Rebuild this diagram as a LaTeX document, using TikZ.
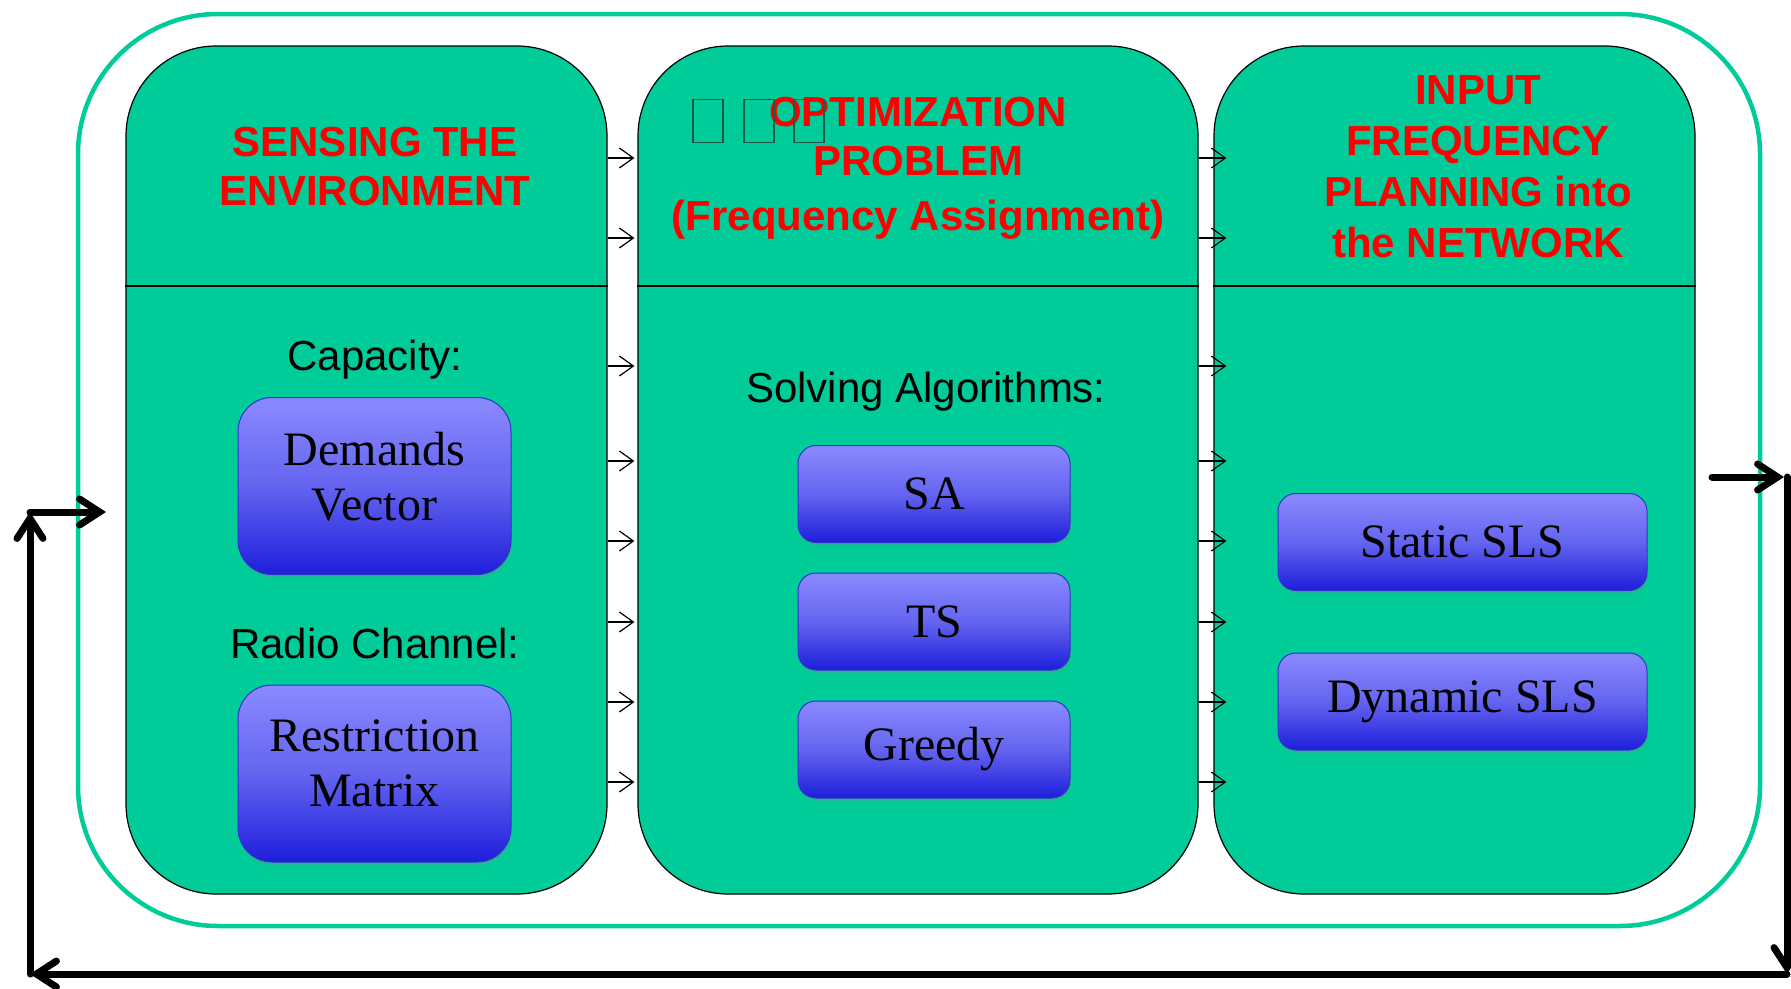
\documentclass[tikz,border=0pt]{standalone}
\usepackage{fontspec}
\setmainfont{Liberation Serif}
\newfontfamily\arial{Liberation Sans}
\usetikzlibrary{arrows.meta,shadows}
\definecolor{tealA}{RGB}{0,204,153}
\definecolor{boxTop}{RGB}{138,138,255}
\definecolor{boxMid}{RGB}{100,100,240}
\definecolor{boxBot}{RGB}{30,30,220}
\definecolor{boxLine}{RGB}{50,50,200}
\definecolor{tofu}{RGB}{30,90,70}
\begin{document}
\begin{tikzpicture}[x=1pt,y=-1pt,
  outer/.style={draw=tealA,line width=4.5pt,fill=white,rounded corners=140pt,inner sep=0pt},
  panel/.style={draw=black,line width=1.2pt,fill=tealA,rounded corners=90pt,inner sep=0pt,minimum height=848pt},
  title/.style={text=red,font=\arial\bfseries\fontsize{42}{49}\selectfont,align=center,inner sep=0pt},
  label/.style={text=black,font=\arial\fontsize{42}{49}\selectfont,inner sep=0pt},
  bluebox/.style={draw=boxLine,line width=1pt,top color=boxTop,bottom color=boxBot,middle color=boxMid,
     font=\fontsize{48}{55}\selectfont,align=center,inner sep=0pt,
     drop shadow={opacity=0.25,shadow xshift=1pt,shadow yshift=-3pt}},
  bigbox/.style={bluebox,rounded corners=34pt,minimum width=273pt,minimum height=177pt,text depth=20pt},
  algbox/.style={bluebox,rounded corners=18pt,minimum width=272pt,minimum height=97pt},
  slsbox/.style={bluebox,rounded corners=18pt,minimum width=369pt,minimum height=97pt},
  smallarr/.style={draw=black,line width=1.2pt,-{Straight Barb[length=14pt,width=20pt]}},
  bigarr/.style={draw=black,line width=7pt,line cap=round,-{Straight Barb[length=20pt,width=26pt,line cap=round]}},
  divider/.style={draw=black,line width=1.2pt},
  tofubox/.style={draw=tofu,line width=1.2pt,minimum width=30pt,minimum height=43pt,inner sep=0pt}
]
\useasboundingbox (0,0) rectangle (1791,988);

\node[outer,minimum width=1682pt,minimum height=912pt] (O) at (919,470) {};

\node[panel,minimum width=481pt] (P1) at (366.5,470) {};
\node[panel,minimum width=560pt] (P2) at (918,470) {};
\node[panel,minimum width=481pt] (P3) at (1454.5,470) {};

\coordinate (dv) at (0,286);
\draw[divider] (P1.west |- dv) -- (P1.east |- dv);
\draw[divider] (P2.west |- dv) -- (P2.east |- dv);
\draw[divider] (P3.west |- dv) -- (P3.east |- dv);

\foreach \yy in {158,238,366,461,541,622,702,782}{
  \coordinate (s) at (0,\yy);
  \draw[smallarr] (P1.east |- s) -- ([xshift=-3pt]P2.west |- s);
  \draw[smallarr] (P2.east |- s) -- ([xshift=13pt]P3.west |- s);
}

\node[title] (T1) at (375,167) {SENSING THE\\ENVIRONMENT};
\node[title] (T2) at (918,168) {OPTIMIZATION\\PROBLEM\\[6pt](Frequency Assignment)};
\node[title,font=\arial\bfseries\fontsize{42}{51}\selectfont] (T3) at (1478,167) {INPUT\\FREQUENCY\\PLANNING into\\the NETWORK};

\node[tofubox] (b1) at (708,121) {};
\node[tofubox] (b2) at (759,121) {};
\node[tofubox] (b3) at (809,121) {};

\node[label] (L1) at (375,360) {Capacity:};
\node[label] (L2) at (375,643) {Radio Channel:};
\node[label] (L3) at (926,392) {Solving Algorithms:};

\node[bigbox] (DV) at (374.5,486) {Demands\\Vector};
\node[bigbox] (RM) at (374.5,773.5) {Restriction\\Matrix};
\node[algbox] (SA) at (934,494) {SA};
\node[algbox] (TS) at (934,621.5) {TS};
\node[algbox] (GR) at (934,749.5) {Greedy};
\node[slsbox] (SS) at (1462.5,542) {Static SLS};
\node[slsbox] (DS) at (1462.5,701.5) {Dynamic SLS};

\coordinate (r0) at (1712,477);
\coordinate (r1) at (1784,477);
\coordinate (c0) at (1787,477);
\coordinate (c1) at (1787,974);
\coordinate (c2) at (30,974);
\coordinate (c3) at (30,512);
\coordinate (c4) at (106,512);
\draw[bigarr] (r0) -- (r1);
\draw[bigarr] (c0) -- (c1);
\draw[bigarr] (c1) -- (c2);
\draw[bigarr] (c2) -- (c3);
\draw[bigarr] (c3) -- (c4);
\end{tikzpicture}
\end{document}
